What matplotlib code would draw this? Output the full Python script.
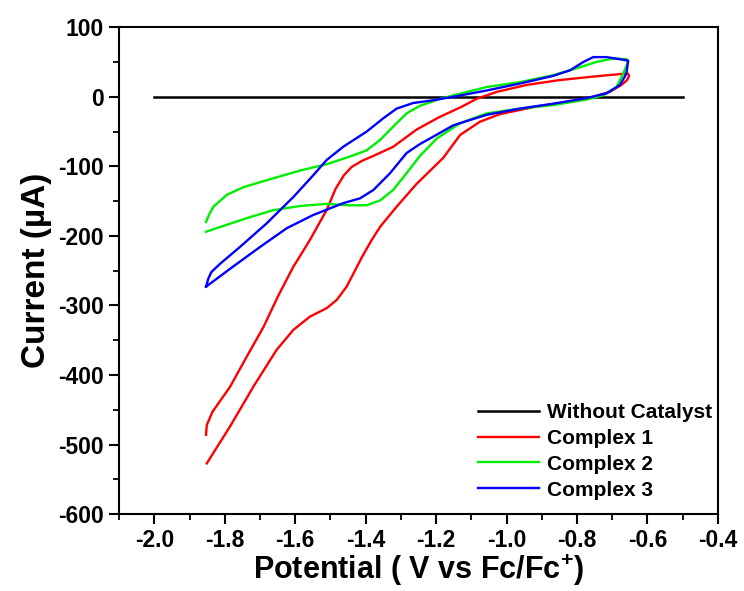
import matplotlib.pyplot as plt
from matplotlib.ticker import MultipleLocator

plt.rcParams['font.family'] = ['Liberation Sans', 'DejaVu Sans']
plt.rcParams['font.weight'] = 'bold'
plt.rcParams['axes.unicode_minus'] = False
plt.rcParams['mathtext.fontset'] = 'custom'
plt.rcParams['mathtext.bf'] = 'Liberation Sans:bold'
plt.rcParams['mathtext.rm'] = 'Liberation Sans:bold'

# blank run
blank_x = [-2.0, -0.5]
blank_y = [0, 0]

# complex 1 (red): left end -> right vertex -> back to left
c1_x = [-1.853, -1.851, -1.835, -1.785, -1.738, -1.69, -1.650, -1.605, -1.59, -1.555,
        -1.511, -1.485, -1.462, -1.44, -1.41, -1.378, -1.322, -1.255, -1.19, -1.13, -1.085,
        -1.028, -0.943, -0.849, -0.754, -0.669, -0.655,
        -0.652, -0.658, -0.674, -0.707, -0.754, -0.82, -0.915, -1.019, -1.076, -1.132,
        -1.18, -1.255, -1.312, -1.359, -1.383, -1.41, -1.454, -1.482, -1.511, -1.558,
        -1.605, -1.653, -1.719, -1.785, -1.851]
c1_y = [-486, -472, -453, -417, -374, -331, -288, -244, -232, -203,
        -163, -132, -113, -101, -92, -85, -72, -47, -29, -15, -3,
        7, 17, 24, 29, 33, 33,
        30, 24, 17, 7, 0, -7, -14, -25, -36, -55,
        -88, -125, -158, -187, -206, -230, -273, -292, -304, -316,
        -335, -364, -417, -474, -527]

# complex 2 (green)
c2_x = [-1.853, -1.845, -1.832, -1.794, -1.747, -1.681, -1.586, -1.511, -1.445, -1.397,
        -1.359, -1.322, -1.284, -1.246, -1.189, -1.151, -1.057, -0.962, -0.868, -0.801,
        -0.745, -0.697, -0.66, -0.655,
        -0.669, -0.688, -0.726, -0.773, -0.868, -0.962, -1.057, -1.132, -1.198, -1.246,
        -1.284, -1.322, -1.359, -1.397, -1.445, -1.511, -1.586, -1.662, -1.728, -1.794,
        -1.853]
c2_y = [-180, -170, -158, -141, -130, -120, -106, -97, -86, -77,
        -62, -43, -24, -13, -3, 2, 14, 21, 31, 41,
        50, 55, 54, 50,
        33, 14, 2, -4, -12, -17, -24, -38, -60, -85,
        -110, -134, -149, -156, -156, -154, -157, -163, -173, -184,
        -194]

# complex 3 (blue)
c3_x = [-1.853, -1.847, -1.838, -1.813, -1.757, -1.681, -1.605, -1.549, -1.511, -1.464,
        -1.397, -1.35, -1.312, -1.265, -1.208, -1.151, -1.057, -0.962, -0.868, -0.82,
        -0.782, -0.754, -0.716, -0.655,
        -0.66, -0.678, -0.716, -0.773, -0.868, -0.962, -1.057, -1.151, -1.2, -1.246,
        -1.284, -1.331, -1.378, -1.416, -1.464, -1.549, -1.624, -1.7, -1.776, -1.853]
c3_y = [-273, -262, -252, -240, -216, -182, -144, -113, -91, -72,
        -50, -31, -17, -9, -5, 0, 9, 19, 30, 38,
        50, 57, 57, 52,
        33, 17, 5, -2, -10, -17, -26, -41, -55, -68,
        -81, -110, -134, -146, -153, -170, -189, -216, -244, -273]

fig = plt.figure(figsize=(7.44, 5.91), dpi=100)
ax = fig.add_axes([0.160, 0.130, 0.805, 0.824])

ax.plot(blank_x, blank_y, color='black', lw=1.8, label='Without Catalyst')
ax.plot(c1_x, c1_y, color='#ff0000', lw=1.7, label='Complex 1')
ax.plot(c2_x, c2_y, color='#00ee00', lw=1.7, label='Complex 2')
ax.plot(c3_x, c3_y, color='#0000ff', lw=1.7, label='Complex 3')

ax.xaxis.set_major_locator(MultipleLocator(0.2))
ax.xaxis.set_minor_locator(MultipleLocator(0.1))
ax.yaxis.set_major_locator(MultipleLocator(100))
ax.yaxis.set_minor_locator(MultipleLocator(50))
ax.set_xlim(-2.1, -0.4)
ax.set_ylim(-600, 100)
ax.xaxis.set_major_formatter(plt.FuncFormatter(lambda v, p: '%.1f' % v))
ax.tick_params(which='major', direction='out', length=7, width=1.5, labelsize=16.5, pad=4)
ax.tick_params(which='minor', direction='out', length=4, width=1.3)
for sp in ax.spines.values():
    sp.set_linewidth(1.5)

ax.set_xlabel(r'Potential ( V vs Fc/Fc$^{\mathbf{+}}$)', fontsize=22, fontweight='bold', labelpad=0)
ax.set_ylabel('Current (µA)', fontsize=24, fontweight='bold', labelpad=4)

ax.legend(loc='lower right', bbox_to_anchor=(1.015, 0.0), frameon=False, fontsize=15,
          handlelength=2.9, handletextpad=0.4, labelspacing=0.33, borderaxespad=0.3)

fig.savefig('out.png', dpi=100)
